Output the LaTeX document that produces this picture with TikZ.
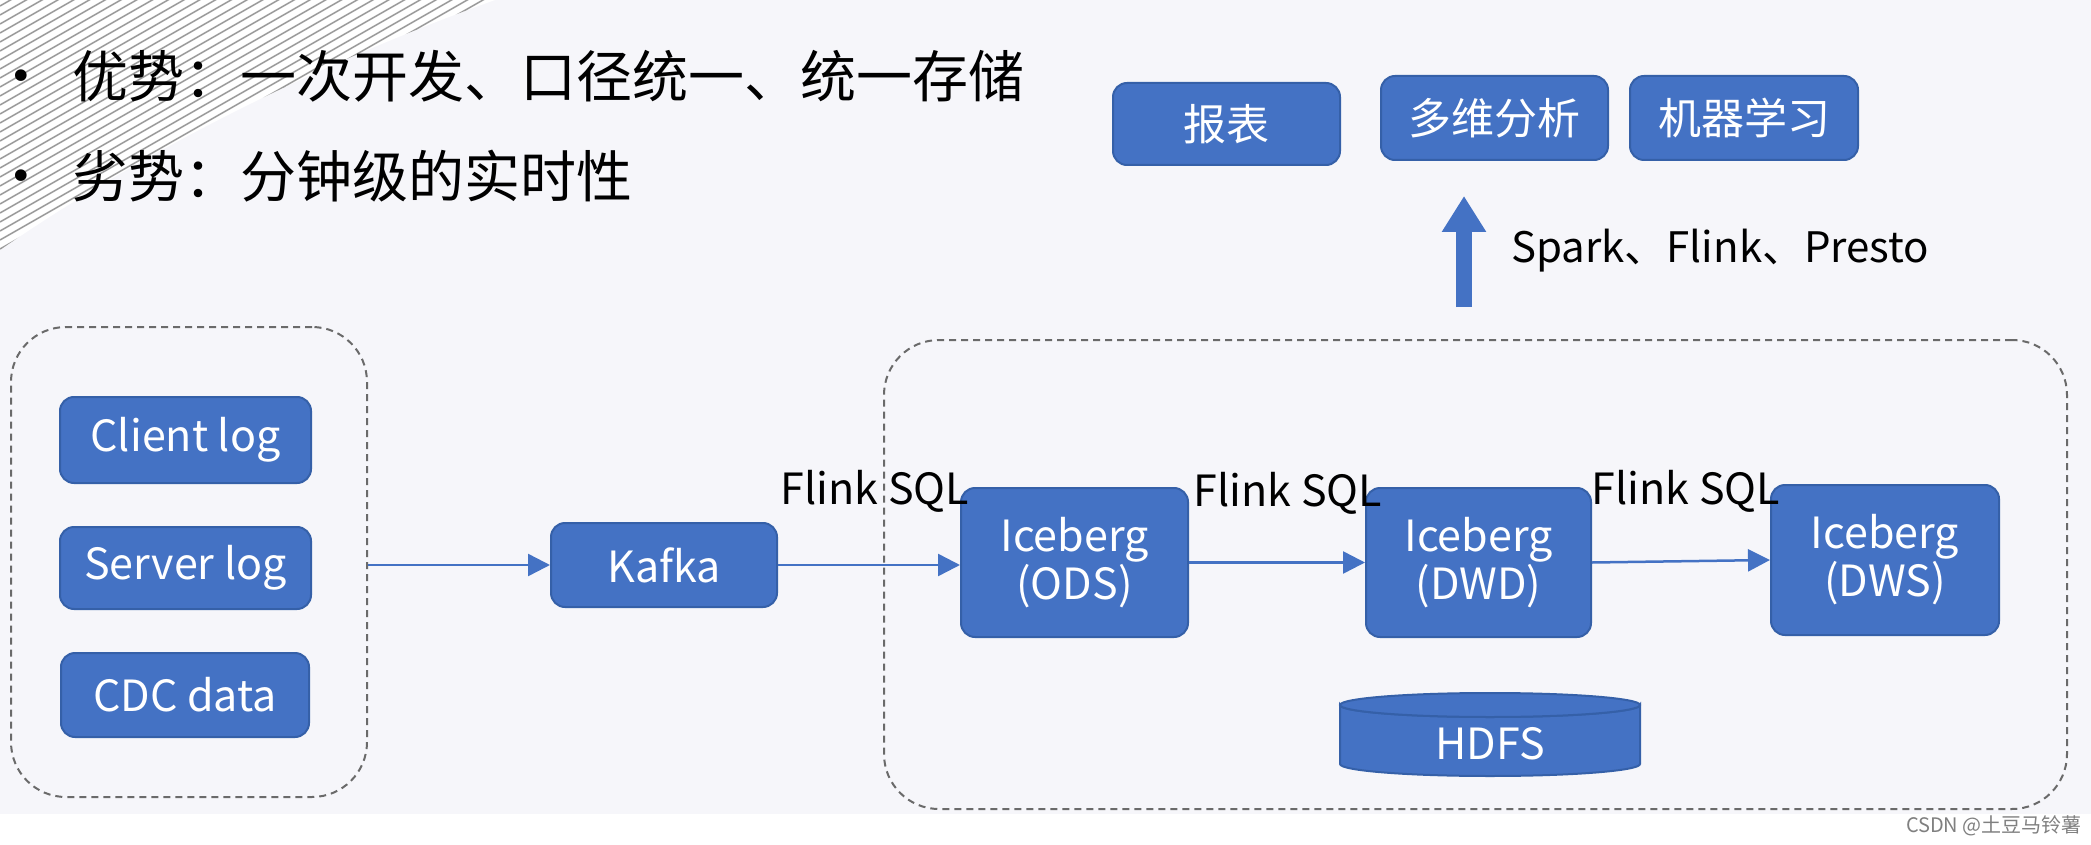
\documentclass[tikz,border=0pt]{standalone}
\usepackage{fontspec}
\setmainfont{Noto Sans CJK SC}
\newfontfamily\djfont{DejaVu Sans}
\usetikzlibrary{arrows.meta,calc}
\definecolor{bg}{HTML}{F6F6FA}
\definecolor{boxblue}{HTML}{4472C4}
\definecolor{boxedge}{HTML}{3560A8}
\definecolor{dashc}{HTML}{6A6A6A}
\definecolor{stripe}{HTML}{9A9A9A}
\tikzset{
 bluebox/.style={draw=boxedge, line width=2pt, fill=boxblue, rounded corners=14pt, text=white, font=\fontsize{43}{48}\selectfont, inner sep=0pt, align=center},
 flow/.style={draw=boxblue, line width=2.5pt, -{Triangle[length=22pt,width=22pt]}},
 dashbox/.style={draw=dashc, line width=2pt, dash pattern=on 7pt off 5pt, rounded corners=55pt, inner sep=0pt},
 lbl/.style={font=\fontsize{43}{48}\selectfont, text=black, inner sep=0pt},
 bul/.style={font=\fontsize{56}{60}\selectfont, text=black, inner sep=0pt},
 dot/.style={font=\djfont\fontsize{40}{44}\selectfont, text=black, inner sep=0pt},
}
\begin{document}
\begin{tikzpicture}[x=1pt,y=-1pt]
\useasboundingbox (0,0) rectangle (2091,845);
\fill[bg] (0,0) rectangle (2091,814);
\fill[white] (0,814) rectangle (2091,845);
% stripes
\begin{scope}
\clip (0,0) -- (495,0) .. controls (300,70) and (130,160) .. (0,250) -- cycle;
\fill[white] (0,0) rectangle (500,260);
\foreach \k in {0,...,140} {
  \draw[stripe, line width=1.5pt] (0,{9*\k-300}) -- (700,{9*\k-700});
}
\end{scope}
% bullets
\node[dot] (d1) at (21,80) {•};
\node[bul, anchor=west] (t1) at (72,76) {优势：一次开发、口径统一、统一存储};
\node[dot] (d2) at (21,180) {•};
\node[bul, anchor=west] (t2) at (72,176) {劣势：分钟级的实时性};
% dashed groups
\node[dashbox, minimum width=356pt, minimum height=470pt] (src) at (189,562) {};
\node[dashbox, minimum width=1183pt, minimum height=469pt] (lake) at (1475.5,574.5) {};
% source boxes
\node[bluebox, minimum width=251pt, minimum height=86pt] (client) at (185.5,440) {Client log};
\node[bluebox, minimum width=251pt, minimum height=82pt] (server) at (185.5,568) {Server log};
\node[bluebox, minimum width=248pt, minimum height=84pt] (cdc) at (185,695) {CDC data};
\node[bluebox, minimum width=226pt, minimum height=84pt] (kafka) at (664,565) {Kafka};
\node[bluebox, minimum width=227pt, minimum height=149pt] (ods) at (1074.5,562.5) {Iceberg\\(ODS)};
\node[bluebox, minimum width=225pt, minimum height=149pt] (dwd) at (1478.5,562.5) {Iceberg\\(DWD)};
\node[bluebox, minimum width=228pt, minimum height=150pt] (dws) at (1885,560) {Iceberg\\(DWS)};
% top boxes
\node[bluebox, minimum width=227pt, minimum height=82pt] (bb) at (1226.5,124) {报表};
\node[bluebox, minimum width=227pt, minimum height=84pt] (dw) at (1494.5,118) {多维分析};
\node[bluebox, minimum width=228pt, minimum height=84pt] (ml) at (1744,118) {机器学习};
% HDFS cylinder
\fill[boxblue, draw=boxedge, line width=2pt] (1340,705) -- (1340,764) arc[start angle=180, end angle=0, x radius=150, y radius=12] -- (1640,705) arc[start angle=0, end angle=180, x radius=150, y radius=12] -- cycle;
\draw[boxedge, line width=2pt, fill=boxblue] (1490,705) ellipse[x radius=150, y radius=12];
\node[text=white, font=\fontsize{43}{48}\selectfont, inner sep=0pt] (hdfs) at (1490,744) {HDFS};
% labels
\node[lbl] (f1) at (875,491) {Flink SQL};
\node[lbl] (f2) at (1288,493) {Flink SQL};
\node[lbl] (f3) at (1686,491) {Flink SQL};
\node[lbl, anchor=west, font=\fontsize{42}{48}\selectfont] (eng) at (1511,251) {Spark、Flink、Presto};
% connectors
\draw[flow] (src.east |- kafka.west) -- (kafka.west);
\draw[flow] (kafka.east) -- (kafka.east -| ods.west);
\draw[flow] (ods.east) -- (dwd.west);
\draw[flow] (dwd.east) -- (dws.west);
\coordinate (upS) at (1464,307);
\coordinate (upE) at (1464,196);
\draw[boxblue, line width=16pt, -{Triangle[length=36pt,width=42pt]}] (upS) -- (upE);
% watermark
\node[font=\fontsize{20}{22}\selectfont, text=gray, anchor=east, inner sep=0pt] (wm) at (2082,826) {CSDN @土豆马铃薯};
\end{tikzpicture}
\end{document}
